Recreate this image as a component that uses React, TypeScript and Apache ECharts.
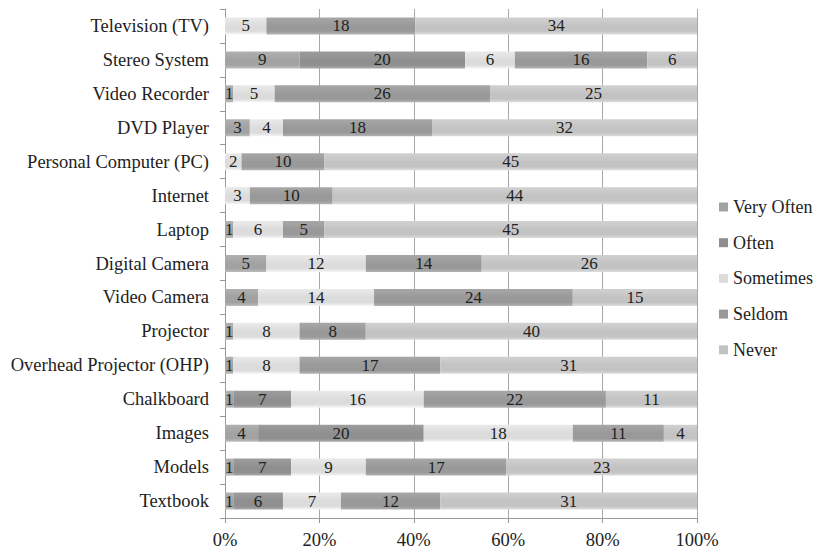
import React, { useEffect, useRef } from "react";
import * as echarts from "echarts";

const categories = [
  "Television (TV)",
  "Stereo System",
  "Video Recorder",
  "DVD Player",
  "Personal Computer (PC)",
  "Internet",
  "Laptop",
  "Digital Camera",
  "Video Camera",
  "Projector",
  "Overhead Projector (OHP)",
  "Chalkboard",
  "Images",
  "Models",
  "Textbook",
];

const seriesNames = ["Very Often", "Often", "Sometimes", "Seldom", "Never"];

const veryOften = [0, 9, 1, 3, 0, 0, 1, 5, 4, 1, 1, 1, 4, 1, 1];
const often = [0, 20, 0, 0, 0, 0, 0, 0, 0, 0, 0, 7, 20, 7, 6];
const sometimes = [5, 6, 5, 4, 2, 3, 6, 12, 14, 8, 8, 16, 18, 9, 7];
const seldom = [18, 16, 26, 18, 10, 10, 5, 14, 24, 8, 17, 22, 11, 17, 12];
const never = [34, 6, 25, 32, 45, 44, 45, 26, 15, 40, 31, 11, 4, 23, 31];

const xTicks = [0, 20, 40, 60, 80, 100];

const baseColors = ["#a2a2a2", "#8f8f8f", "#dcdcdc", "#999999", "#c3c3c3"];

function shade(hex: string, amt: number) {
  const n = parseInt(hex.slice(1), 16);
  const r = Math.min(255, Math.max(0, ((n >> 16) & 255) + amt));
  const g = Math.min(255, Math.max(0, ((n >> 8) & 255) + amt));
  const b = Math.min(255, Math.max(0, (n & 255) + amt));
  return `rgb(${r},${g},${b})`;
}

export default function App() {
  const ref = useRef<HTMLDivElement>(null);
  useEffect(() => {
    if (!ref.current) return;
    const chart = echarts.init(ref.current, undefined, { renderer: "svg" });
    const all = [veryOften, often, sometimes, seldom, never];
    const totals = categories.map((_, i) => all.reduce((s, arr) => s + arr[i], 0));
    const font = "Liberation Serif, Times New Roman, serif";
    const series = all.map((arr, si) => ({
      name: seriesNames[si],
      type: "bar",
      stack: "total",
      barWidth: 17,
      itemStyle: {
        color: new echarts.graphic.LinearGradient(0, 0, 0, 1, [
          { offset: 0, color: shade(baseColors[si], 14) },
          { offset: 0.5, color: baseColors[si] },
          { offset: 0.8, color: baseColors[si] },
          { offset: 1, color: shade(baseColors[si], 26) },
        ]),
      },
      label: {
        show: true,
        position: "inside",
        color: "#222",
        fontFamily: font,
        fontSize: 17,
        formatter: (p: any) => (p.data.count > 0 ? String(p.data.count) : ""),
      },
      data: arr.map((c, i) => ({ value: (c / totals[i]) * 100, count: c })),
    }));
    chart.setOption({
      animation: false,
      textStyle: { fontFamily: font },
      grid: { left: 225, right: 119, top: 9, bottom: 34 },
      legend: {
        orient: "vertical",
        left: 714,
        top: 192,
        itemWidth: 9,
        itemHeight: 9,
        itemGap: 15.7,
        icon: "rect",
        data: seriesNames.map((n, i) => ({ name: n, itemStyle: { color: baseColors[i] } })),
        textStyle: { fontFamily: font, fontSize: 18, color: "#222", lineHeight: 20 },
      },
      xAxis: {
        type: "value",
        min: xTicks[0],
        max: xTicks[xTicks.length - 1],
        interval: 20,
        axisLine: { show: true, lineStyle: { color: "#999" } },
        axisTick: { show: true, length: 5, lineStyle: { color: "#999" } },
        splitLine: { show: true, lineStyle: { color: "#a8a8a8", width: 1 } },
        axisLabel: {
          margin: 12,
          fontFamily: font,
          fontSize: 18.5,
          color: "#222",
          formatter: (v: number) => `${v}%`,
        },
      },
      yAxis: {
        type: "category",
        inverse: true,
        data: categories,
        axisLine: { show: true, lineStyle: { color: "#999" } },
        axisTick: { show: true, length: 5, lineStyle: { color: "#999" } },
        axisLabel: { margin: 16, fontFamily: font, fontSize: 18.5, color: "#222" },
      },
      series,
    });
    return () => chart.dispose();
  }, []);
  return (
    <div
      ref={ref}
      style={{ position: "absolute", left: 0, top: 0, width: 816, height: 552 }}
    />
  );
}
